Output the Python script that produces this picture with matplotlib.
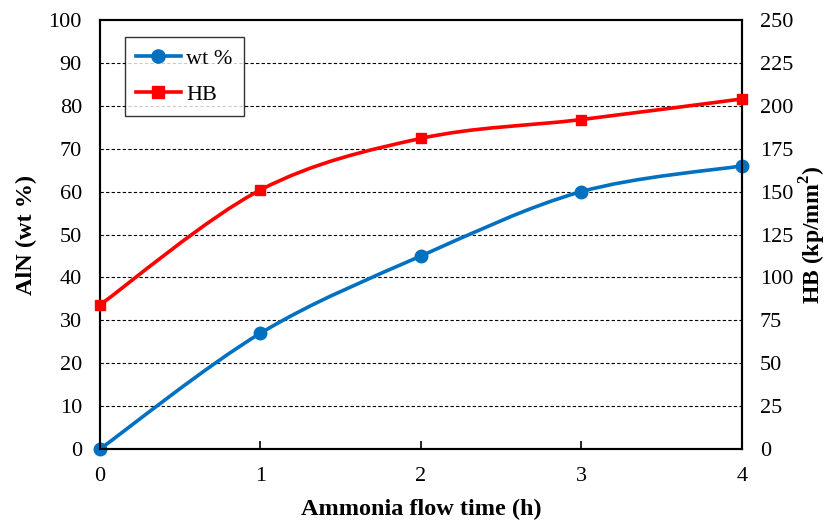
import numpy as np
import matplotlib
matplotlib.use("Agg")
from matplotlib import pyplot as plt
from matplotlib.path import Path
from matplotlib.patches import PathPatch
from matplotlib.lines import Line2D

plt.rcParams['font.family'] = ['Liberation Serif', 'DejaVu Serif']
plt.rcParams['mathtext.fontset'] = 'custom'
plt.rcParams['mathtext.rm'] = 'Liberation Serif'
plt.rcParams['mathtext.bf'] = 'Liberation Serif:bold'

time_h = [0, 1, 2, 3, 4]
aln_wt = [0, 27, 45, 60, 66]
hb = [84, 151, 181, 192, 204]

blue = '#0070C0'
red = '#FF0000'


def smooth_path(xs, ys):
    # Excel-like smoothed line: cubic Bezier through the points (Catmull-Rom)
    pts = np.column_stack([xs, ys]).astype(float)
    verts = [pts[0]]
    codes = [Path.MOVETO]
    n = len(pts)
    for i in range(n - 1):
        p0 = pts[max(i - 1, 0)]
        p1 = pts[i]
        p2 = pts[i + 1]
        p3 = pts[min(i + 2, n - 1)]
        c1 = p1 + (p2 - p0) / 6.0
        c2 = p2 - (p3 - p1) / 6.0
        verts += [c1, c2, p2]
        codes += [Path.CURVE4] * 3
    return Path(verts, codes)


fig = plt.figure(figsize=(8.28, 5.24), dpi=100)
ax = fig.add_axes([0.1208, 0.1431, 0.7752, 0.8187])
ax2 = ax.twinx()

ax.add_patch(PathPatch(smooth_path(time_h, aln_wt), fill=False, edgecolor=blue, lw=2.6, zorder=3))
ax.plot(time_h, aln_wt, 'o', color=blue, ms=9, clip_on=False, zorder=4)

ax2.add_patch(PathPatch(smooth_path(time_h, hb), fill=False, edgecolor=red, lw=2.6, zorder=3))
ax2.plot(time_h, hb, 's', color=red, ms=7.5, clip_on=False, zorder=4)

ax.set_xlim(0, 4)
ax.set_ylim(0, 100)
ax2.set_ylim(0, 250)
ax.set_xticks(time_h)
ax.set_yticks(np.arange(0, 101, 10))
ax2.set_yticks(np.arange(0, 251, 25))

for y in np.arange(10, 100, 10):
    ax.axhline(y, color='black', lw=0.8, linestyle=(0, (3, 2)), zorder=1)

ax.tick_params(axis='x', direction='in', length=6, width=1.2, labelsize=16, pad=13)
ax.tick_params(axis='y', length=0, labelsize=16, pad=13)
ax2.tick_params(axis='y', length=0, labelsize=16, pad=13)

for a in (ax, ax2):
    for s in a.spines.values():
        s.set_linewidth(1.5)
        s.set_color('black')

ax.set_xlabel('Ammonia flow time (h)', fontsize=17.5, fontweight='bold', labelpad=9)
ax.set_ylabel('AlN (wt %)', fontsize=17.5, fontweight='bold', labelpad=8)
ax2.set_ylabel(r'HB (kp/mm$^\mathbf{2}$)', fontsize=17, fontweight='bold', labelpad=3)

handles = [Line2D([], [], color=blue, lw=2.6, marker='o', ms=9.5),
           Line2D([], [], color=red, lw=2.6, marker='s', ms=8)]
leg = ax.legend(handles, ['wt %', 'HB'], loc='upper left', bbox_to_anchor=(0.039, 0.96),
                borderaxespad=0, fontsize=16, frameon=True, fancybox=False, edgecolor='black',
                handlelength=2.0, handletextpad=0.25, labelspacing=0.7, borderpad=0.5)
leg.get_frame().set_linewidth(1.0)
leg.set_zorder(5)

fig.savefig('out.png', dpi=100)
